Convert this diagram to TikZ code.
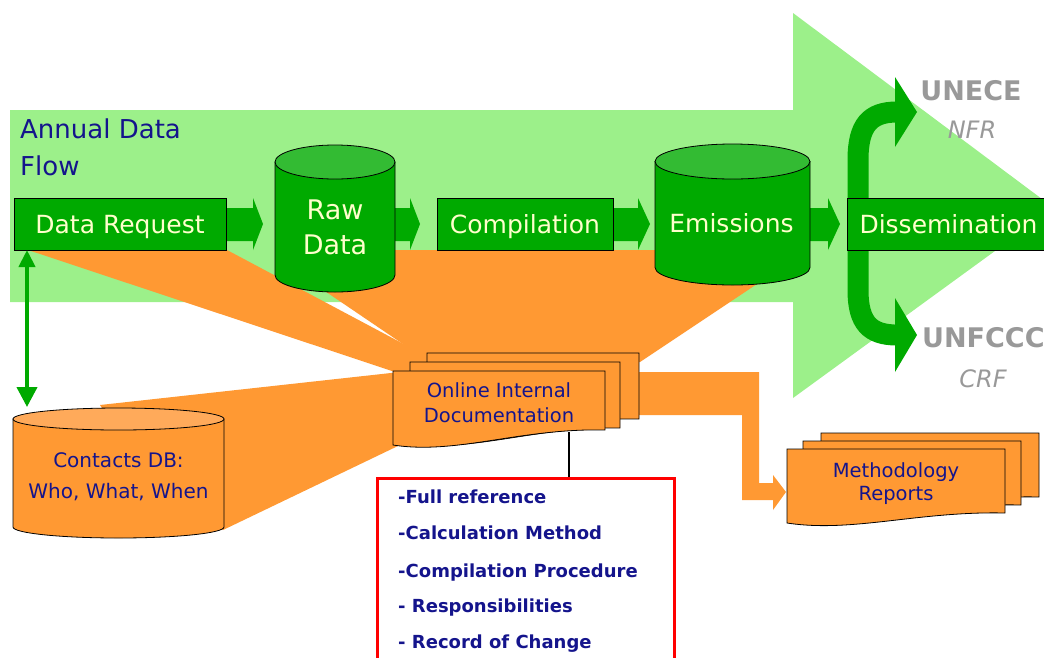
\documentclass[tikz,border=0pt]{standalone}
\usepackage{fontspec}
\setmainfont{DejaVu Sans}
\usetikzlibrary{arrows.meta}
\definecolor{lgreen}{HTML}{9CF08A}
\definecolor{dgreen}{HTML}{00AA00}
\definecolor{tgreen}{HTML}{33BB33}
\definecolor{orng}{HTML}{FF9933}
\definecolor{lorng}{HTML}{FFAA5A}
\definecolor{navy}{HTML}{14148C}
\definecolor{cream}{HTML}{FFFFCC}
\definecolor{ggray}{HTML}{999999}
\newcommand\mycyl[7]{%
  \filldraw[fill=#6,draw=black,line width=0.8pt] ({#1-#4},-#2) -- ({#1-#4},-#3) arc[start angle=180,end angle=360,x radius=#4,y radius=#5] -- ({#1+#4},-#2) -- cycle;
  \filldraw[fill=#7,draw=black,line width=0.8pt] (#1,-#2) ellipse[x radius=#4,y radius=#5];}
\newcommand\gblockarrow[3]{\fill[dgreen] (#1,-208) -- (#2,-208) -- (#2,-198) -- (#3,-224) -- (#2,-250) -- (#2,-241) -- (#1,-241) -- cycle;}
\newcommand\docsheet[5]{%
  \filldraw[sheet] (#1,-#2) -- (#3,-#2) -- (#3,-#5) .. controls ({#1+0.6*(#3-#1)},{-(#5-2)}) and ({#1+0.3*(#3-#1)},{-(#4+10)}) .. (#1,-#4) -- cycle;}
\begin{document}
\begin{tikzpicture}[x=1pt,y=1pt,
  gbox/.style={draw=black,line width=0.8pt,fill=dgreen,inner sep=0pt,text=cream,font=\fontsize{25}{30}\selectfont,text height=18pt,text depth=0pt},
  cyltext/.style={text=cream,inner sep=0pt,align=center,font=\fontsize{27}{35}\selectfont},
  navytext/.style={text=navy,inner sep=0pt,align=center,font=\fontsize{20}{31}\selectfont},
  listitem/.style={text=navy,inner sep=0pt,anchor=base west,font=\bfseries\fontsize{18}{22}\selectfont},
  graybold/.style={text=ggray,inner sep=0pt,font=\bfseries\fontsize{27}{30}\selectfont},
  grayital/.style={text=ggray,inner sep=0pt,font=\itshape\fontsize{24}{28}\selectfont},
  titletext/.style={text=navy,inner sep=0pt,anchor=base west,font=\fontsize{26}{30}\selectfont},
  sheet/.style={fill=orng,draw=black,line width=0.8pt},
  band/.style={draw=dgreen,line width=21pt},
]
\useasboundingbox (0,0) rectangle (1044,-657);
\clip (0,0) rectangle (1044,-657);
% big light green arrow
\fill[lgreen] (10,-110) -- (793,-110) -- (793,-13) -- (1054,-208) -- (793,-398) -- (793,-302) -- (10,-302) -- cycle;
% orange wedges
\fill[orng] (28,-250) -- (227,-250) -- (430,-358) -- (430,-372) -- (395,-372) -- cycle;
\fill[orng] (285,-250) -- (720,-250) -- (760,-282) -- (640,-362) -- (430,-362) -- (400,-342) -- (282,-262) -- cycle;
\fill[orng] (100,-405) -- (400,-372) -- (400,-445) -- (223,-530) -- (150,-480) -- cycle;
% orange arrow to reports
\fill[orng] (600,-372) -- (759,-372) -- (759,-483) -- (773,-483) -- (773,-475) -- (786,-492) -- (773,-510) -- (773,-500) -- (742,-500) -- (742,-415) -- (600,-415) -- cycle;
% green block arrows
\gblockarrow{226}{253}{263}
\gblockarrow{390}{410}{420}
\gblockarrow{613}{638}{650}
\gblockarrow{805}{828}{840}
% dissemination bands
\draw[band] (858,-225) -- (858,-160) .. controls (858,-125) and (870,-112) .. (897,-112);
\fill[dgreen] (895,-77) -- (917,-112) -- (895,-147) -- cycle;
\draw[band] (858,-225) -- (858,-290) .. controls (858,-323) and (870,-335) .. (897,-335);
\fill[dgreen] (895,-298) -- (917,-335) -- (895,-372) -- cycle;
% boxes
\node[gbox,minimum width=212pt,minimum height=52pt] (datareq) at (120,-224) {Data Request};
\node[gbox,minimum width=176pt,minimum height=52pt] (compil) at (525,-224) {Compilation};
\node[gbox,minimum width=203pt,minimum height=52pt] (dissem) at (948.5,-224) {Dissemination};
% cylinders
\mycyl{335}{162}{275}{60}{17}{dgreen}{tgreen}
\node[cyltext] (rawdata) at (335,-227.7) {Raw\\Data};
\mycyl{732.5}{161.5}{267.5}{77.5}{17.5}{dgreen}{tgreen}
\node[cyltext,anchor=base,font=\fontsize{25}{30}\selectfont] (emis) at (731.5,-232) {Emissions};
\mycyl{118.5}{419}{527}{105.5}{11}{orng}{lorng}
\node[navytext] (contacts) at (118.5,-477) {Contacts DB:\\Who, What, When};
% double arrow
\coordinate (reqlink) at (27,-250);
\coordinate (dblink) at (27,-407);
\draw[dgreen,line width=4pt,{Triangle[width=16pt,length=17pt]}-{Triangle[width=20pt,length=20pt]}] (reqlink) -- (dblink);
% titles and outputs
\node[titletext] (title1) at (20,-138) {Annual Data};
\node[titletext] (title2) at (20,-175) {Flow};
\node[graybold,anchor=base] (unece) at (971,-100) {UNECE};
\node[grayital,anchor=base] (nfr) at (972,-138) {NFR};
\node[graybold,anchor=base west] (unfccc) at (922,-347) {UNFCCC};
\node[grayital,anchor=base] (crf) at (983,-387) {CRF};
% documentation stack
\docsheet{427}{353}{639}{434}{419}
\docsheet{410}{362}{620}{443}{428}
\docsheet{393}{371}{605}{445}{430}
\node[navytext,font=\fontsize{19.5}{25}\selectfont] (docs) at (499,-403.1) {Online Internal\\Documentation};
% methodology reports stack
\docsheet{821}{433}{1039}{507}{497}
\docsheet{803}{441}{1021}{515}{505}
\docsheet{787}{449}{1005}{523}{513}
\node[navytext,font=\fontsize{19.5}{23}\selectfont] (method) at (896,-483.4) {Methodology\\Reports};
% red list box
\node[draw=red,line width=2.5pt,minimum width=297pt,minimum height=220pt,anchor=north west,inner sep=0pt] (reflist) at (376,-477) {};
\coordinate (docbot) at (569,-432);
\draw[line width=1.2pt] (docbot) -- (docbot |- reflist.north);
\node[listitem] (r1) at (398,-503) {-Full reference};
\node[listitem] (r2) at (398,-539) {-Calculation Method};
\node[listitem] (r3) at (398,-577) {-Compilation Procedure};
\node[listitem] (r4) at (398,-612) {- Responsibilities};
\node[listitem] (r5) at (398,-648) {- Record of Change};
\end{tikzpicture}
\end{document}
